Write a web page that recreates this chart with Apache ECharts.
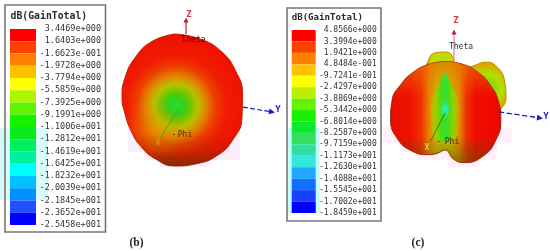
<!DOCTYPE html>
<html><head><meta charset="utf-8">
<style>html,body{margin:0;padding:0;background:#fff}#c{width:550px;height:251px;filter:blur(0.3px)}</style>
<script src="https://cdn.jsdelivr.net/npm/echarts@6/dist/echarts.min.js"></script>
</head><body><div id="c"></div>
<script>
// Legend tick labels (dB gain)
const gainLabelsB = ['3.4469e+000','1.6403e+000','-1.6623e-001','-1.9728e+000','-3.7794e+000','-5.5859e+000','-7.3925e+000','-9.1991e+000','-1.1006e+001','-1.2812e+001','-1.4619e+001','-1.6425e+001','-1.8232e+001','-2.0039e+001','-2.1845e+001','-2.3652e+001','-2.5458e+001'];
const gainLabelsC = ['4.8566e+000','3.3994e+000','1.9421e+000','4.8484e-001','-9.7241e-001','-2.4297e+000','-3.8869e+000','-5.3442e+000','-6.8014e+000','-8.2587e+000','-9.7159e+000','-1.1173e+001','-1.2630e+001','-1.4088e+001','-1.5545e+001','-1.7002e+001','-1.8459e+001'];
const bandColorsB = ['#ff0000','#fb4000','#ff8000','#ffc000','#ffff00','#b0f400','#60f400','#14f400','#0ae820','#00ee60','#00f0a0','#00ffff','#00c0ff','#0090ff','#2050ff','#0000ff'];
const bandColorsC = ['#ff0000','#fb4000','#ff8000','#ffc000','#ffff00','#b8f000','#68f000','#18f000','#10e830','#30e060','#30e0a0','#30e8e0','#20a8ff','#1070ff','#1840ff','#0000ff'];
// Balloon outlines: radius read at each angle around the dimple
const anglesB = [0,20,40,60,80,100,120,140,160,180,200,220,240,260,280,300,320,340,360];
const radiiB  = [72,71.5,71.5,70,68.5,68,67,65,61.5,60,56.5,53,50.5,50.5,53.8,57.5,62.5,68.5,72];
const anglesC = [0,20,40,60,80,100,120,140,160,170,180,190,200,220,240,260,280,300,320,340,360];
const radiiC  = [48.5,49,50,51.5,54,56.7,59,59.8,56,50,40,44,47.5,53,55.6,55.2,53.8,51,49.3,48.5,48.5];
const leftLobeAngles = [330,340,350,360,8,12];
const leftLobeRadii  = [40,51,58,58,54,45];
const rightLobeAngles = [25,34,40,50,65,78,90,100];
const rightLobeRadii  = [45,54,62.5,67.5,66,62.4,55,45];
const grooveAngles = [0,30,60,90,120,150,180,210,240,270,300,330,360];
const grooveRadii  = [38,20,16,16,17,26,32,26,17,16,16,20,38];
const dimpleAngles = [0,45,90,135,180,225,270,315,360];
const dimpleRadii  = [9,5,4,5,8,5,4,5,9];

const pairs = (r, a) => r.map((v, i) => [v, a[i]]);
const stops = l => l.map(([offset, color]) => ({offset, color}));
const radial = (x, y, r, l) => ({type:'radial', x, y, r, global:true, colorStops:stops(l)});
const linear = (x, y, x2, y2, l) => ({type:'linear', x, y, x2, y2, global:true, colorStops:stops(l)});

function area(polarIndex, r, a, fill, line, z) {
  return {type:'line', coordinateSystem:'polar', polarIndex, data:pairs(r, a), smooth:0.5, symbol:'none', silent:true, clip:false, z,
    lineStyle: line ? {color:line, width:1} : {width:0, opacity:0}, areaStyle:{color:fill, opacity:1}};
}
function axisLine(polarIndex, pts, color, width, type, head, z) {
  return {type:'line', coordinateSystem:'polar', polarIndex, silent:true, clip:false, z, symbol:'none',
    lineStyle:{color, width, type},
    data: pts.map((p, i) => (i === pts.length - 1 && head) ?
      {value:p, symbol:'triangle', symbolSize:head.size, symbolRotate:head.rotate, itemStyle:{color:head.color||color}} : {value:p})};
}
function bands(gridIndex, colors) {
  return {type:'custom', xAxisIndex:gridIndex, yAxisIndex:gridIndex, silent:true, z:3,
    data: colors.map((c, i) => [i, c]),
    encode:{y:0},
    renderItem(params, api) {
      const i = api.value(0);
      const p0 = api.coord([0, i]), p1 = api.coord([1, i + 1]);
      return {type:'rect', shape:{x:p0[0], y:p0[1], width:p1[0]-p0[0], height:p1[1]-p0[1]}, style:{fill:colors[i]}};
    }};
}
const mono = 'DejaVu Sans Mono';
const yAxis = (gridIndex, labels, size, margin) => ({type:'category', gridIndex, data:labels, inverse:true, boundaryGap:false, position:'right', z:6,
  axisLine:{show:false}, axisTick:{show:false}, splitLine:{show:false},
  axisLabel:{interval:0, fontFamily:mono, fontSize:size, color:'#333', align:'right', margin, hideOverlap:false}});
const xAxis = gridIndex => ({type:'value', gridIndex, min:0, max:1, show:false});
const polarAngle = polarIndex => ({polarIndex, type:'value', min:0, max:360, startAngle:90, clockwise:true, show:false});
const polarRadius = polarIndex => ({polarIndex, type:'value', min:0, max:100, show:false});
const rect = (x, y, width, height, fill) => ({type:'rect', shape:{x, y, width, height}, style:{fill}, z:0, silent:true});
const txt = (x, y, text, font, fill, align) => ({type:'text', x, y, z:20, silent:true,
  style:{text, font, fill, textAlign:align||'center', textVerticalAlign:'middle'}});
const frame = (x, y, width, height) => ({type:'rect', shape:{x, y, width, height}, style:{fill:'none', stroke:'#777', lineWidth:1.6}, z:10, silent:true});

const option = {
  animation:false, backgroundColor:'#fff',
  grid:[{left:10, width:26, top:29, height:196}, {left:291.7, width:24, top:30, height:183}],
  xAxis:[xAxis(0), xAxis(1)],
  yAxis:[yAxis(0, gainLabelsB, 8.5, 65), yAxis(1, gainLabelsC, 8, 61)],
  polar:[{center:[175,106], radius:100}, {center:[445,110], radius:100}],
  angleAxis:[polarAngle(0), polarAngle(1)],
  radiusAxis:[polarRadius(0), polarRadius(1)],
  series:[
    bands(0, bandColorsB), bands(1, bandColorsC),
    // Panel (b)
    area(0, radiiB, anglesB, radial(176,106,78,[[0,'#20e030'],[.1,'#30d020'],[.17,'#60c800'],[.28,'#b8c000'],[.38,'#e08800'],[.5,'#ee4000'],[.64,'#f01c00'],[1,'#f00c00']]), '#c02000', 4),
    area(0, radiiB, anglesB, radial(155,132,32,[[0,'rgba(225,170,0,.6)'],[1,'rgba(225,140,0,0)']]), null, 5),
    area(0, radiiB, anglesB, linear(0,134,0,167,[[0,'rgba(70,50,0,0)'],[.5,'rgba(70,50,0,.18)'],[1,'rgba(50,60,0,.6)']]), null, 6),
    axisLine(0, [[72.8,8.7],[86.7,7.3]], '#d82030', 1.2, 'solid', {size:5, rotate:0, color:'#c81020'}, 7),
    axisLine(0, [[5,143],[35.3,205]], '#30b030', 1, 'solid', null, 7),
    axisLine(0, [[68,91],[97.2,93.5]], '#1020c0', 1.2, 'dashed', {size:6, rotate:-101}, 7),
    // Panel (c)
    area(1, leftLobeRadii, leftLobeAngles, radial(442,62,15,[[0,'#a8e020'],[.7,'#c8d800'],[1,'#d8a000']]), '#c09000', 2),
    area(1, rightLobeRadii, rightLobeAngles, radial(487,88,24,[[0,'#70d010'],[.6,'#b0e000'],[1,'#d8a800']]), '#c09000', 2),
    area(1, radiiC, anglesC, linear(390,0,501,0,[[0,'#c80c00'],[.03,'#e81000'],[.18,'#f01000'],[.28,'#f03000'],[.35,'#e88000'],[.42,'#d0b800'],[.5,'#c0c000'],[.56,'#d0b000'],[.63,'#e88000'],[.69,'#ee3000'],[.77,'#f00c00'],[.97,'#ee0800'],[1,'#c81000']]), '#a82000', 3),
    area(1, radiiC, anglesC, linear(0,62,0,97,[[0,'rgba(235,110,0,.7)'],[1,'rgba(235,120,0,0)']]), null, 4),
    area(1, radiiC, anglesC, linear(0,136,0,164,[[0,'rgba(90,80,0,0)'],[1,'rgba(90,80,0,.6)']]), null, 4),
    area(1, grooveRadii, grooveAngles, linear(429,0,461,0,[[0,'rgba(190,200,0,0)'],[.2,'rgba(150,210,0,.85)'],[.38,'#50dc10'],[.5,'#30e040'],[.62,'#50dc10'],[.8,'rgba(150,210,0,.85)'],[1,'rgba(190,200,0,0)']]), null, 5),
    area(1, dimpleRadii, dimpleAngles, radial(445,109,9,[[0,'#20f0c0'],[.6,'#30e880'],[1,'rgba(48,224,64,0)']]), null, 6),
    axisLine(1, [[48.8,10.6],[78.5,6.6]], '#e07080', 1, 'solid', {size:5, rotate:0, color:'#d81030'}, 7),
    axisLine(1, [[3,180],[35.3,205]], '#308020', 1, 'solid', null, 7),
    axisLine(1, [[54,92],[95.3,94.8]], '#1020c0', 1.3, 'dashed', {size:6, rotate:-98}, 7)
  ],
  graphic:{elements:[
    rect(0,128,48,72,'#d6fcfc'), rect(288,128,32,85,'#c8fdfd'),
    rect(128,128,112,24,'#fdeefd'), rect(144,152,96,8,'#fdeefd'), rect(160,160,47,7,'#fdeefd'),
    rect(383,128,129,15,'#fff0fb'), rect(400,143,97,9,'#fff0fb'), rect(417,152,78,8,'#fff0fb'), rect(448,160,32,7,'#fff0fb'),
    frame(5,5,100.5,227), frame(287,8,94,213),
    txt(10.5,16,'dB(GainTotal)','bold 9.8px "DejaVu Sans Mono"','#2a2a2a','left'),
    txt(291.7,18,'dB(GainTotal)','bold 9.1px "DejaVu Sans Mono"','#2a2a2a','left'),
    txt(189,15,'Z','bold 9px "DejaVu Sans Mono"','#e03040'),
    txt(193.5,40,'Theta','8px "DejaVu Sans Mono"','#401000'),
    txt(185,135,'Phi','8px "DejaVu Sans Mono"','#503000'),
    txt(174,135,'-','8px "DejaVu Sans Mono"','#503000'),
    txt(158,142.5,'X','8px "DejaVu Sans Mono"','#e0a020'),
    txt(278,110,'Y','bold 9px "DejaVu Sans Mono"','#2030c0'),
    txt(456,21,'Z','bold 9px "DejaVu Sans Mono"','#e03040'),
    txt(461,47,'Theta','8px "DejaVu Sans Mono"','#303030'),
    txt(452,142,'Phi','8px "DejaVu Sans Mono"','#303020'),
    txt(439,142,'-','8px "DejaVu Sans Mono"','#303020'),
    txt(427,148,'X','bold 8px "DejaVu Sans Mono"','#e8d040'),
    txt(546,117,'Y','bold 9px "DejaVu Sans Mono"','#2030c0'),
    txt(136.5,243,'(b)','bold 11.5px "Liberation Serif"','#222'),
    txt(418,243.5,'(c)','bold 11.5px "Liberation Serif"','#222')
  ]}
};
echarts.init(document.getElementById('c'), null, {renderer:'canvas'}).setOption(option);
</script></body></html>
